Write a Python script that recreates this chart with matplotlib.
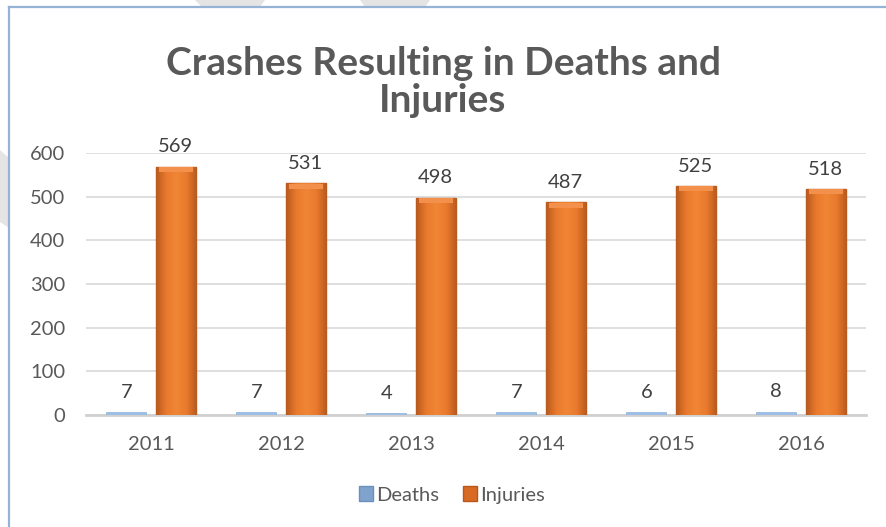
import matplotlib
matplotlib.use("Agg")
import matplotlib.pyplot as plt
import numpy as np
from matplotlib.colors import LinearSegmentedColormap
from matplotlib.lines import Line2D
from matplotlib.patches import Polygon, Patch

# data
years = ["2011", "2012", "2013", "2014", "2015", "2016"]
deaths = [7, 7, 4, 7, 6, 8]
injuries = [569, 531, 498, 487, 525, 518]
yticks = [0, 100, 200, 300, 400, 500, 600]

plt.rcParams['font.family'] = ['Lato', 'DejaVu Sans']
txt = '#595959'

fig = plt.figure(figsize=(8.86, 5.27), dpi=100)
W, H = 886, 527

# faint page decoration behind the chart frame
for pts in [[(195, 0), (265, 0), (260, 7), (202, 7)],
            [(360, 0), (430, 0), (425, 7), (365, 7)],
            [(0, 150), (9, 158), (9, 228), (0, 222)]]:
    fig.patches.append(Polygon([(x / W, 1 - y / H) for x, y in pts], closed=True,
                               transform=fig.transFigure, facecolor='#e4e4e4',
                               edgecolor='none', zorder=0))

# chart frame (only top and left edges are visible)
fig.lines.append(Line2D([9 / W, 9 / W], [0, 1 - 7 / H], transform=fig.transFigure,
                        color='#95B3D7', lw=1.6))
fig.lines.append(Line2D([9 / W, 1], [1 - 7 / H, 1 - 7 / H], transform=fig.transFigure,
                        color='#95B3D7', lw=1.6))

ax = fig.add_axes([86 / W, (H - 415) / H, 780 / W, 262 / H])
x = np.arange(len(years))
bw = 0.31
off = 0.19

b1 = ax.bar(x - off, deaths, bw, color='#9DBFE6', edgecolor='#8AB0DA', lw=0.5, zorder=3)
b2 = ax.bar(x + off, injuries, bw, color='#E4762A', edgecolor='#B9581C', lw=1.0, zorder=3)

# horizontal gradient on the injury bars to mimic the bevel
orange = LinearSegmentedColormap.from_list('o', ['#B85A1E', '#E97A2E', '#F08636', '#E97A2E', '#B85A1E'])
grad = np.linspace(0, 1, 64).reshape(1, -1)
for p in b2:
    x0, y0 = p.get_x(), p.get_y()
    w, h = p.get_width(), p.get_height()
    im = ax.imshow(grad, cmap=orange, aspect='auto', extent=[x0, x0 + w, y0, y0 + h],
                   zorder=3.5)
    im.set_clip_path(p)
    # lighter top cap
    ax.bar(x0 + w / 2, 12, w * 0.84, bottom=y0 + h - 13, color='#F3914C',
           edgecolor='none', zorder=3.6)

for xi, v in zip(x - off, deaths):
    ax.annotate(str(v), (xi, v), xytext=(0, 8), textcoords='offset points',
                ha='center', va='bottom', fontsize=14.5, color='#404040')
for xi, v in zip(x + off, injuries):
    ax.annotate(str(v), (xi, v), xytext=(0, 8), textcoords='offset points',
                ha='center', va='bottom', fontsize=14.5, color='#404040')

ax.set_xlim(-0.5, len(years) - 0.5)
ax.set_ylim(0, 600)
ax.set_yticks(yticks)
ax.set_xticks(x)
ax.set_xticklabels(years)
ax.tick_params(axis='both', length=0, labelsize=14.5, labelcolor=txt)
ax.tick_params(axis='y', pad=15)
ax.tick_params(axis='x', pad=15)
ax.grid(axis='y', color='#D9D9D9', lw=1.2, zorder=0)
ax.set_axisbelow(True)
for s in ['top', 'right', 'left']:
    ax.spines[s].set_visible(False)
ax.spines['bottom'].set_color('#D0D0D0')
ax.spines['bottom'].set_linewidth(2.0)

fig.text(0.5, 1 - 82 / H, "Crashes Resulting in Deaths and\nInjuries", ha='center',
         va='center', fontsize=28, fontweight='bold', color=txt, linespacing=1.1)

handles = [Patch(facecolor='#7FA3CC', edgecolor='#6B90BB'),
           Patch(facecolor='#D86A24', edgecolor='#B9581C')]
fig.legend(handles, ['Deaths', 'Injuries'], loc='center', bbox_to_anchor=(452 / W, 1 - 495 / H),
           ncol=2, frameon=False, fontsize=14.5, labelcolor=txt, handlelength=0.7,
           handleheight=0.7, handletextpad=0.15, columnspacing=1.2)

fig.savefig('out.png', dpi=100)
